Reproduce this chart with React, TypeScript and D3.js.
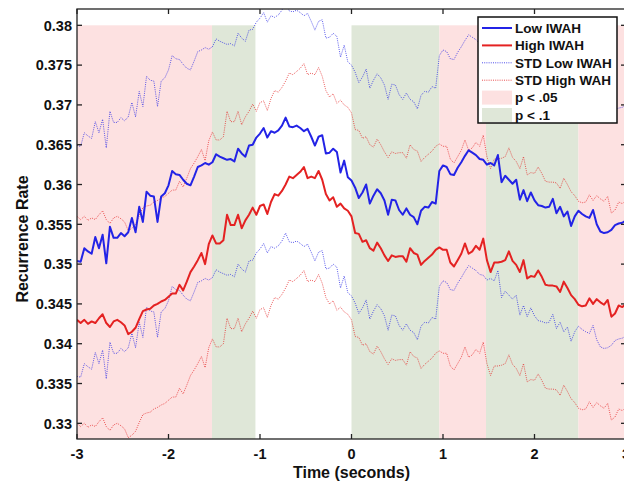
import React from 'react'
import * as d3 from 'd3'

// time axis: samples every 40 ms from -3 s to 3 s
const timeStart = -3
const timeStep = 0.04

const lowIwah = [
  0.3504, 0.3503, 0.3520, 0.3516, 0.3513, 0.3534, 0.3520, 0.3537, 0.3501, 0.3547,
  0.3533, 0.3533, 0.3539, 0.3535, 0.3540, 0.3558, 0.3540, 0.3572, 0.3553, 0.3591,
  0.3586, 0.3585, 0.3553, 0.3585, 0.3589, 0.3599, 0.3617, 0.3613, 0.3612, 0.3606,
  0.3601, 0.3599, 0.3610, 0.3622, 0.3624, 0.3627, 0.3625, 0.3628, 0.3638, 0.3635,
  0.3633, 0.3631, 0.3632, 0.3629, 0.3645, 0.3639, 0.3635, 0.3649, 0.3650, 0.3659,
  0.3664, 0.3671, 0.3659, 0.3667, 0.3665, 0.3668, 0.3674, 0.3684, 0.3673, 0.3672,
  0.3674, 0.3671, 0.3667, 0.3670, 0.3660, 0.3649, 0.3660, 0.3662, 0.3639, 0.3640,
  0.3645, 0.3641, 0.3615, 0.3630, 0.3609, 0.3605, 0.3596, 0.3583, 0.3590, 0.3600,
  0.3576, 0.3586, 0.3594, 0.3589, 0.3580, 0.3562, 0.3581, 0.3580, 0.3568, 0.3562,
  0.3570, 0.3562, 0.3559, 0.3550, 0.3567, 0.3572, 0.3571, 0.3578, 0.3576, 0.3617,
  0.3624, 0.3622, 0.3613, 0.3612, 0.3621, 0.3628, 0.3636, 0.3643, 0.3640, 0.3637,
  0.3632, 0.3631, 0.3625, 0.3627, 0.3624, 0.3637, 0.3603, 0.3611, 0.3606, 0.3601,
  0.3606, 0.3581, 0.3593, 0.3579, 0.3590, 0.3580, 0.3574, 0.3573, 0.3571, 0.3572,
  0.3582, 0.3564, 0.3572, 0.3560, 0.3566, 0.3548, 0.3560, 0.3567, 0.3563, 0.3560,
  0.3558, 0.3568, 0.3550, 0.3541, 0.3539, 0.3540, 0.3543, 0.3549, 0.3551, 0.3552,
  0.3555,
]

const highIwah = [
  0.3430, 0.3426, 0.3430, 0.3425, 0.3428, 0.3426, 0.3432, 0.3437, 0.3426, 0.3421,
  0.3428, 0.3430, 0.3427, 0.3423, 0.3412, 0.3415, 0.3420, 0.3431, 0.3441, 0.3443,
  0.3444, 0.3448, 0.3450, 0.3453, 0.3455, 0.3459, 0.3463, 0.3463, 0.3474, 0.3467,
  0.3478, 0.3490, 0.3497, 0.3505, 0.3514, 0.3500, 0.3525, 0.3536, 0.3526, 0.3526,
  0.3530, 0.3562, 0.3549, 0.3549, 0.3562, 0.3545, 0.3555, 0.3562, 0.3571, 0.3562,
  0.3573, 0.3575, 0.3563, 0.3578, 0.3588, 0.3586, 0.3592, 0.3600, 0.3610, 0.3608,
  0.3612, 0.3616, 0.3622, 0.3608, 0.3610, 0.3608, 0.3617, 0.3606, 0.3588, 0.3580,
  0.3584, 0.3572, 0.3576, 0.3570, 0.3567, 0.3560, 0.3539, 0.3538, 0.3528, 0.3530,
  0.3520, 0.3517, 0.3527, 0.3520, 0.3511, 0.3504, 0.3511, 0.3509, 0.3510, 0.3510,
  0.3503, 0.3520, 0.3514, 0.3512, 0.3499, 0.3504, 0.3508, 0.3512, 0.3518, 0.3521,
  0.3518, 0.3518, 0.3502, 0.3497, 0.3505, 0.3513, 0.3526, 0.3513, 0.3516, 0.3523,
  0.3518, 0.3532, 0.3505, 0.3490, 0.3502, 0.3502, 0.3503, 0.3505, 0.3516, 0.3504,
  0.3499, 0.3490, 0.3505, 0.3482, 0.3485, 0.3484, 0.3492, 0.3484, 0.3474, 0.3473,
  0.3473, 0.3472, 0.3465, 0.3478, 0.3470, 0.3461, 0.3456, 0.3449, 0.3447, 0.3448,
  0.3457, 0.3450, 0.3456, 0.3452, 0.3449, 0.3455, 0.3434, 0.3438, 0.3448, 0.3446,
  0.3450,
]

// standard-error widths of the dotted bands
const lowStd = 0.0145
const highStd = 0.013

// significance windows (seconds)
const sigStarts = [-3, -1.525, 0, 0.96, 1.47, 2.48]
const sigEnds = [-1.525, -1.05, 0.96, 1.47, 2.48, 3]
const sigLevels = ['p05', 'p1', 'p1', 'p05', 'p1', 'p05']

const xTicks = [-3, -2, -1, 0, 1, 2, 3]
const yTicks = [0.33, 0.335, 0.34, 0.345, 0.35, 0.355, 0.36, 0.365, 0.37, 0.375, 0.38]
const yTickLabels = ['0.33', '0.335', '0.34', '0.345', '0.35', '0.355', '0.36', '0.365', '0.37', '0.375', '0.38']

const legendLabels = ['Low IWAH', 'High IWAH', 'STD Low IWAH', 'STD High WAH', 'p < .05', 'p < .1']

const BLUE = '#2323e6'
const RED = '#e42222'
const PINK = '#fde1e1'
const GREEN = '#dfe7d8'
const FONT = '"Liberation Sans", Arial, Helvetica, sans-serif'

export default function App() {
  const width = 624
  const height = 483
  const margin = { top: 9, left: 77, bottom: 44 }
  const plotRight = 626

  const x = d3.scaleLinear().domain([-3, 3]).range([margin.left, plotRight])
  const y = d3.scaleLinear().domain([0.32803, 0.38205]).range([height - margin.bottom, margin.top])

  const line = d3.line<number>()
    .x((_, i) => x(timeStart + i * timeStep))
    .y((d) => y(d))

  const series = [
    { values: lowIwah.map((v) => v + lowStd), color: BLUE, dotted: true },
    { values: lowIwah.map((v) => v - lowStd), color: BLUE, dotted: true },
    { values: highIwah.map((v) => v + highStd), color: RED, dotted: true },
    { values: highIwah.map((v) => v - highStd), color: RED, dotted: true },
    { values: lowIwah, color: BLUE, dotted: false },
    { values: highIwah, color: RED, dotted: false },
  ]

  const y0 = y.range()[0]
  const y1 = y.range()[1]
  const axisColor = '#222'

  const legendX = 478
  const legendY = 17
  const rowH = 17.4

  return (
    <svg
      width={width}
      height={height}
      style={{ position: 'absolute', left: 0, top: 0, background: '#fff' }}
      fontFamily={FONT}
    >
      <defs>
        <clipPath id="plot-clip">
          <rect x={margin.left} y={y1} width={plotRight - margin.left} height={y0 - y1} />
        </clipPath>
      </defs>

      {/* significance shading */}
      {sigStarts.map((s, i) => (
        <rect
          key={i}
          x={x(s)}
          y={y(0.38)}
          width={x(sigEnds[i]) - x(s)}
          height={y0 - y(0.38)}
          fill={sigLevels[i] === 'p05' ? PINK : GREEN}
        />
      ))}

      <g clipPath="url(#plot-clip)">
        {series.map((s, i) => (
          <path
            key={i}
            d={line(s.values) || ''}
            fill="none"
            stroke={s.color}
            strokeWidth={s.dotted ? 1 : 2}
            strokeDasharray={s.dotted ? '1 1.2' : undefined}
            strokeOpacity={s.dotted ? 0.75 : 1}
            strokeLinejoin="round"
          />
        ))}
      </g>

      {/* frame */}
      <rect x={margin.left} y={y1} width={plotRight - margin.left} height={y0 - y1} fill="none" stroke={axisColor} strokeWidth={1.3} />

      {xTicks.map((t) => (
        <g key={t}>
          <line x1={x(t)} x2={x(t)} y1={y0} y2={y0 - 5} stroke={axisColor} strokeWidth={1.3} />
          <line x1={x(t)} x2={x(t)} y1={y1} y2={y1 + 5} stroke={axisColor} strokeWidth={1.3} />
          <text x={x(t)} y={459} textAnchor="middle" fontSize={14.5} fontWeight="bold" fill="#111">
            {t}
          </text>
        </g>
      ))}

      {yTicks.map((t, i) => (
        <g key={t}>
          <line x1={margin.left} x2={margin.left + 5} y1={y(t)} y2={y(t)} stroke={axisColor} strokeWidth={1.3} />
          <line x1={plotRight} x2={plotRight - 5} y1={y(t)} y2={y(t)} stroke={axisColor} strokeWidth={1.3} />
          <text x={72} y={y(t)} dy="0.36em" textAnchor="end" fontSize={14.5} fontWeight="bold" fill="#111">
            {yTickLabels[i]}
          </text>
        </g>
      ))}

      <text x={x(0)} y={478} textAnchor="middle" fontSize={16} fontWeight="bold" fill="#111">
        Time (seconds)
      </text>
      <text
        transform={`translate(28, 239) rotate(-90)`}
        textAnchor="middle"
        fontSize={16}
        fontWeight="bold"
        fill="#111"
      >
        Recurrence Rate
      </text>

      {/* legend */}
      <rect x={legendX} y={legendY} width={139} height={106} fill="#fff" stroke="#111" strokeWidth={1.5} />
      {legendLabels.map((label, i) => {
        const cy = legendY + 11 + i * rowH
        let swatch
        if (i < 4) {
          const dotted = i >= 2
          swatch = (
            <line
              x1={482}
              x2={512}
              y1={cy}
              y2={cy}
              stroke={i % 2 === 0 ? BLUE : RED}
              strokeWidth={dotted ? 1 : 2}
              strokeDasharray={dotted ? '1 1.2' : undefined}
              strokeOpacity={dotted ? 0.8 : 1}
            />
          )
        } else {
          swatch = <rect x={482} y={cy - 7} width={30} height={14} fill={i === 4 ? PINK : GREEN} />
        }
        return (
          <g key={label}>
            {swatch}
            <text x={515} y={cy} dy="0.36em" fontSize={13.5} fontWeight="bold" fill="#111">
              {label}
            </text>
          </g>
        )
      })}
    </svg>
  )
}
